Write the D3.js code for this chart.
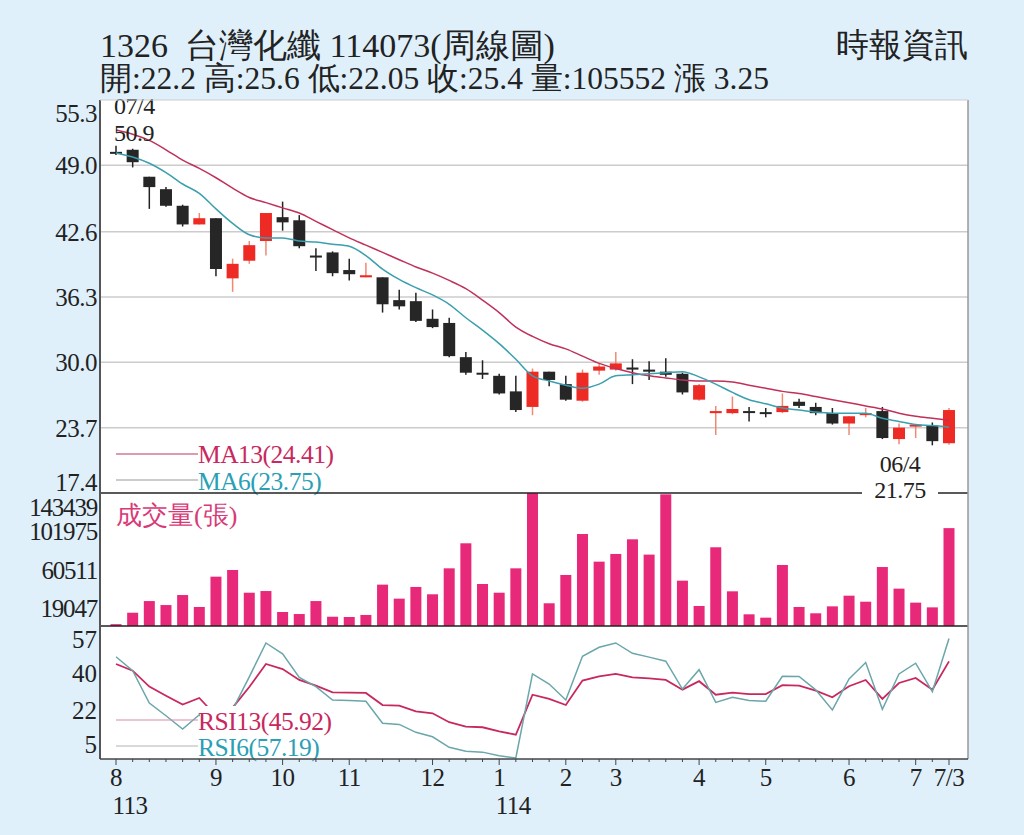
<!DOCTYPE html>
<html><head><meta charset="utf-8">
<script src="https://cdn.jsdelivr.net/npm/d3@7"></script>
<style>body{margin:0;background:#dff0fb;}svg{display:block;font-family:"Liberation Serif","DejaVu Serif",serif;}</style>
</head><body><svg id="c" width="1024" height="835"></svg>
<script>
const openP  = [50.3,50.5,47.9,46.7,45.1,43.3,43.9,38.1,39.8,41.7,44.0,43.7,40.3,40.6,38.9,38.2,38.2,36.0,35.9,34.2,33.8,30.5,29.0,28.7,27.2,25.7,29.1,27.9,26.3,29.2,29.3,29.5,29.3,29.1,28.9,26.4,25.1,25.1,25.3,25.2,25.2,26.2,25.7,25.1,24.1,25.0,25.3,22.6,23.8,23.9,22.2];
const closeP = [50.3,49.3,46.9,45.1,43.3,43.9,39.0,39.5,41.3,44.4,43.5,41.2,40.3,38.6,38.5,38.4,35.6,35.4,34.0,33.4,30.6,29.0,29.0,27.0,25.4,29.1,28.3,26.4,29.0,29.6,29.9,29.3,29.1,28.8,27.1,27.8,25.3,25.5,25.3,25.2,25.8,25.8,25.1,24.1,24.8,25.1,22.7,23.7,24.0,22.4,25.4];
const highP  = [50.9,50.6,47.9,46.9,45.2,44.4,43.9,40.0,41.7,44.4,45.5,44.2,41.0,40.7,40.0,39.6,38.2,37.0,36.7,35.1,34.3,31.0,30.2,28.9,28.7,29.4,29.1,28.7,29.3,29.9,31.0,30.3,30.1,30.4,29.0,27.9,25.8,26.7,25.7,25.6,27.0,26.5,26.1,25.6,24.8,25.6,25.7,24.1,24.0,24.2,25.6];
const lowP   = [50.0,48.8,44.8,45.0,43.1,43.3,38.3,36.8,39.5,40.3,42.7,41.0,38.8,38.3,37.9,38.2,34.8,35.1,33.9,33.3,30.5,28.8,28.4,26.9,25.2,24.9,27.7,26.3,26.2,28.8,29.2,27.9,28.3,28.6,26.9,26.3,23.0,25.0,24.3,24.7,25.1,25.6,24.9,24.0,23.0,24.7,22.6,22.1,22.7,22.0,22.05];
const ma13 = [52.4,52.0,51.4,50.5,49.5,48.7,47.8,46.8,45.9,45.4,44.9,44.4,43.6,42.8,42.0,41.3,40.6,39.9,39.2,38.6,37.9,37.1,36.0,34.8,33.4,32.5,31.8,31.3,30.6,29.9,29.4,29.0,28.7,28.5,28.3,28.2,28.2,28.1,27.8,27.5,27.2,27.0,26.7,26.4,26.1,25.8,25.5,25.1,24.8,24.6,24.41];
const ma6  = [50.2,49.8,49.2,48.3,47.2,46.3,44.8,43.4,42.3,42.0,42.0,41.7,41.6,41.4,41.2,40.3,39.0,38.0,37.2,36.5,35.6,34.3,33.1,31.8,30.3,28.7,28.2,27.8,27.5,27.9,28.7,28.8,28.9,29.0,29.1,28.6,27.9,27.1,26.4,26.0,25.6,25.4,25.2,25.1,25.1,25.1,24.6,24.3,24.0,23.9,23.75];
const volume = [2000,14300,26900,22600,33400,20500,53200,60400,35900,37700,15100,12900,26900,10000,9700,11900,44600,29500,42100,34200,62200,89200,45300,35900,62200,143439,24500,55000,99200,69400,77700,93500,77000,142000,48900,21600,84900,37400,12600,9000,65800,20500,13700,21200,32700,26200,63600,40300,25200,20100,105552];
const rsi13 = [44.6,41.3,33.4,28.9,24.5,27.8,19.0,23.0,33.2,44.6,42.1,36.7,33.9,30.6,30.4,30.3,24.3,24.0,21.2,20.2,15.8,13.6,13.3,11.3,9.6,29.4,27.3,24.3,36.4,38.5,39.7,38.0,37.5,36.7,31.9,36.1,29.4,30.4,29.7,29.7,34.1,33.9,31.4,28.1,33.6,36.7,27.3,35.2,37.7,31.9,45.92];
const rsi6  = [48.2,41.3,25.3,19.0,12.4,19.5,10.0,22.0,38.2,55.0,49.6,38.0,33.4,26.8,26.5,26.2,15.3,14.7,10.8,8.6,3.4,1.4,1.0,-0.8,-1.9,39.7,34.7,26.8,48.4,52.9,55.0,49.9,48.0,46.0,32.2,41.8,25.6,28.1,26.5,26.2,38.5,38.4,31.8,21.9,37.2,45.3,22.2,39.7,45.0,30.9,57.19];
const priceTicks = [55.3,49.0,42.6,36.3,30.0,23.7,17.4];
const volTicks = [143439,101975,60511,19047];
const rsiTicks = [57,40,22,5];
const monthLabels = ["8","9","10","11","12","1","2","3","4","5","6","7","7/3"];
const monthIdx = [0,6,10,14,19,23,27,30,35,39,44,48,50];
const yearLabels = ["113","114"];
const yearIdx = [0,23];

const svg = d3.select("#c");
const L=100,R=968,T=100,V1=493,V2=626,B=759;
const n = closeP.length;
const x = d3.scaleLinear().domain([0,n-1]).range([116,949]);
const yP = d3.scaleLinear().domain([17.4,55.3]).range([V1,T]);
const yV = d3.scaleLinear().domain([0,143439]).range([V2,V1]);
const yR = d3.scaleLinear().domain([-2.4,63.4]).range([B,V2]);

svg.append("rect").attr("x",L).attr("y",T).attr("width",R-L).attr("height",B-T).attr("fill","#fff");
svg.append("text").attr("x",100).attr("y",57).attr("font-size",34).attr("fill","#222").attr("xml:space","preserve").text("1326  台灣化纖 114073(周線圖)");
svg.append("text").attr("x",100).attr("y",89).attr("font-size",31.5).attr("fill","#222").text("開:22.2 高:25.6 低:22.05 收:25.4 量:105552 漲 3.25");
svg.append("text").attr("x",968).attr("y",56).attr("text-anchor","end").attr("font-size",33).attr("fill","#222").text("時報資訊");

svg.selectAll(".g").data(priceTicks.slice(1,6)).enter().append("line")
  .attr("x1",L).attr("x2",R).attr("y1",d=>yP(d)).attr("y2",d=>yP(d)).attr("stroke","#ccc").attr("stroke-width",1.5);
svg.selectAll(null).data(priceTicks).enter().append("text").attr("x",97)
  .attr("y",d=>Math.min(Math.max(yP(d),113),482)+9).attr("text-anchor","end").attr("font-size",25).attr("fill","#222").attr("letter-spacing",-0.5).text(d=>d.toFixed(1));
svg.selectAll(null).data(volTicks).enter().append("text").attr("x",97)
  .attr("y",d=>Math.min(Math.max(yV(d),507),612)+9).attr("text-anchor","end").attr("font-size",25).attr("fill","#222").attr("letter-spacing",-1.2).text(d=>d);
svg.selectAll(null).data(rsiTicks).enter().append("text").attr("x",97)
  .attr("y",d=>yR(d)+9).attr("text-anchor","end").attr("font-size",25).attr("fill","#222").text(d=>d);

svg.selectAll(".v").data(volume).enter().append("rect")
  .attr("x",(d,i)=>x(i)-5.5).attr("width",11).attr("y",d=>yV(d)).attr("height",d=>V2-yV(d)).attr("fill","#e8297a");
svg.append("text").attr("x",116).attr("y",524).attr("font-size",26).attr("fill","#d83a78").text("成交量(張)");

const idx=d3.range(n);
svg.selectAll(".w").data(idx).enter().append("line")
  .attr("x1",i=>x(i)).attr("x2",i=>x(i)).attr("y1",i=>yP(highP[i])).attr("y2",i=>yP(lowP[i]))
  .attr("stroke",i=>closeP[i]>openP[i]?"#ef8a70":"#222").attr("stroke-width",1.5);
svg.selectAll(".b").data(idx).enter().append("rect")
  .attr("x",i=>x(i)-6).attr("width",12)
  .attr("y",i=>yP(Math.max(openP[i],closeP[i])))
  .attr("height",i=>Math.max(2,Math.abs(yP(openP[i])-yP(closeP[i]))))
  .attr("fill",i=>closeP[i]>openP[i]?"#ee2a24":"#262626");

const line=(arr,sc)=>d3.line().curve(d3.curveMonotoneX).x((d,i)=>x(i)).y(d=>sc(d))(arr);
const pline=(arr,sc)=>d3.line().x((d,i)=>x(i)).y(d=>sc(d))(arr);
svg.append("path").attr("d",line(ma13,yP)).attr("fill","none").attr("stroke","#c0315a").attr("stroke-width",1.5);
svg.append("path").attr("d",line(ma6,yP)).attr("fill","none").attr("stroke","#3b9fae").attr("stroke-width",1.5);

svg.append("text").attr("x",114).attr("y",114).attr("font-size",24).attr("fill","#222").attr("letter-spacing",-0.5).text("07/4");
svg.append("text").attr("x",114).attr("y",141).attr("font-size",24).attr("fill","#222").attr("letter-spacing",-0.5).text("50.9");
svg.append("text").attr("x",900).attr("y",472).attr("text-anchor","middle").attr("font-size",24).attr("fill","#222").attr("letter-spacing",-0.5).text("06/4");

svg.append("line").attr("x1",116).attr("x2",198).attr("y1",454).attr("y2",454).attr("stroke","#b83a5e").attr("stroke-width",1.2);
svg.append("text").attr("x",198).attr("y",463).attr("font-size",25.5).attr("fill","#c8285e").attr("letter-spacing",-0.5).text("MA13(24.41)");
svg.append("line").attr("x1",116).attr("x2",198).attr("y1",480).attr("y2",480).attr("stroke","#999").attr("stroke-width",1.2);
svg.append("text").attr("x",198).attr("y",490).attr("font-size",25.5).attr("fill","#2a9fb5").attr("letter-spacing",-0.5).text("MA6(23.75)");

svg.append("path").attr("d",pline(rsi13,yR)).attr("fill","none").attr("stroke","#c8285e").attr("stroke-width",1.8);
svg.append("path").attr("d",pline(rsi6,yR)).attr("fill","none").attr("stroke","#6aa6ab").attr("stroke-width",1.5);
svg.append("rect").attr("x",200).attr("y",706).attr("width",140).attr("height",52).attr("fill","#fff");
svg.append("line").attr("x1",116).attr("x2",198).attr("y1",720).attr("y2",720).attr("stroke","#d98aa5").attr("stroke-width",1.2);
svg.append("text").attr("x",198).attr("y",730).attr("font-size",25.5).attr("fill","#c8285e").attr("letter-spacing",-0.5).text("RSI13(45.92)");
svg.append("line").attr("x1",116).attr("x2",198).attr("y1",746).attr("y2",746).attr("stroke","#ccc").attr("stroke-width",1.5);
svg.append("text").attr("x",198).attr("y",756).attr("font-size",25.5).attr("fill","#2a9fb5").attr("letter-spacing",-0.5).text("RSI6(57.19)");

svg.append("line").attr("x1",L).attr("x2",R).attr("y1",V1).attr("y2",V1).attr("stroke","#222").attr("stroke-width",1.5);
svg.append("line").attr("x1",L).attr("x2",R).attr("y1",V2).attr("y2",V2).attr("stroke","#222").attr("stroke-width",1.5);
svg.append("rect").attr("x",862).attr("y",482).attr("width",76).attr("height",20).attr("fill","#fff");
svg.append("text").attr("x",900).attr("y",498).attr("text-anchor","middle").attr("font-size",24).attr("fill","#222").attr("letter-spacing",-0.5).text("21.75");
svg.append("line").attr("x1",L).attr("x2",L).attr("y1",T).attr("y2",B).attr("stroke","#555").attr("stroke-width",2);
svg.append("line").attr("x1",R).attr("x2",R).attr("y1",T).attr("y2",B).attr("stroke","#999").attr("stroke-width",1.5);
svg.append("line").attr("x1",L).attr("x2",R).attr("y1",B).attr("y2",B).attr("stroke","#444").attr("stroke-width",1.5);
svg.append("line").attr("x1",L).attr("x2",R).attr("y1",T).attr("y2",T).attr("stroke","#ccc").attr("stroke-width",1);

svg.selectAll(".t").data(idx).enter().append("line")
  .attr("x1",i=>x(i)).attr("x2",i=>x(i)).attr("y1",B).attr("y2",i=>B+(monthIdx.includes(i)?6:3)).attr("stroke","#444");
svg.selectAll(null).data(monthLabels).enter().append("text")
  .attr("x",(d,k)=>x(monthIdx[k])).attr("y",786).attr("text-anchor","middle").attr("font-size",25).attr("fill","#222").attr("letter-spacing",-0.5).text(d=>d);
svg.selectAll(null).data(yearLabels).enter().append("text")
  .attr("x",(d,k)=>x(yearIdx[k])+14).attr("y",814).attr("text-anchor","middle").attr("font-size",25).attr("fill","#222").attr("letter-spacing",-0.5).text(d=>d);
</script></body></html>
